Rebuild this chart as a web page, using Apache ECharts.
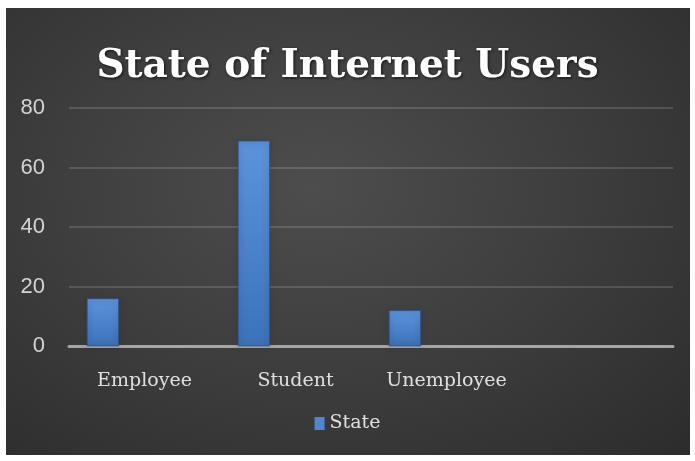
<!DOCTYPE html>
<html>
<head>
<meta charset="utf-8">
<script src="https://cdn.jsdelivr.net/npm/echarts@6/dist/echarts.min.js"></script>
<style>
  html, body { margin: 0; padding: 0; background: #fff; }
  #bg {
    position: absolute; left: 6px; top: 8px; width: 684px; height: 447px;
    background: radial-gradient(ellipse at 45% 40%, #4d4d4d 0%, #3f3f3f 45%, #2c2c2c 100%);
  }
  #chart { position: absolute; left: 0; top: 0; width: 695px; height: 461px; }
</style>
</head>
<body>
<div id="bg"></div>
<div id="chart"></div>
<script>
const categories = ['Employee', 'Student', 'Unemployee', '']
const stateValues = [16, 69, 12, null]
const emptyValues = [null, null, null, null]
const yTicks = { min: 0, max: 80, interval: 20 }

const chart = echarts.init(document.getElementById('chart'))

const barStyle = {
  color: new echarts.graphic.LinearGradient(0, 0, 0, 1, [
    { offset: 0, color: '#5d93db' },
    { offset: 1, color: '#3c72ba' }
  ]),
  borderColor: '#2d4f80',
  borderWidth: 0.5,
  shadowBlur: 6,
  shadowColor: 'rgba(0,0,0,0.6)',
  shadowOffsetY: 1
}

const option = {
  backgroundColor: 'transparent',
  title: {
    text: 'State of Internet Users',
    left: 'center',
    top: 42,
    textStyle: {
      color: '#ffffff',
      fontFamily: 'DejaVu Serif',
      fontWeight: 'bold',
      fontSize: 39,
      textShadowColor: 'rgba(0,0,0,0.7)',
      textShadowBlur: 3,
      textShadowOffsetX: 1,
      textShadowOffsetY: 1
    }
  },
  legend: {
    data: ['State'],
    top: 409,
    left: 'center',
    itemWidth: 10,
    itemHeight: 13,
    itemGap: 6,
    icon: 'rect',
    itemStyle: { color: '#4f86d0', borderWidth: 0, shadowBlur: 0 },
    textStyle: { color: '#e0e0e0', fontFamily: 'DejaVu Serif', fontSize: 19 }
  },
  grid: { left: 69, right: 22, top: 108, bottom: 115 },
  xAxis: {
    type: 'category',
    data: categories,
    axisLine: { lineStyle: { color: '#a6a6a6', width: 3 } },
    axisTick: { show: false },
    axisLabel: {
      interval: 0,
      color: '#e0e0e0',
      fontFamily: 'DejaVu Serif',
      fontSize: 19,
      margin: 26
    }
  },
  yAxis: {
    type: 'value',
    min: yTicks.min,
    max: yTicks.max,
    interval: yTicks.interval,
    axisLine: { show: false },
    axisTick: { show: false },
    axisLabel: { color: '#d4d4d4', fontFamily: 'Liberation Sans Narrow, Liberation Sans', fontSize: 22, margin: 24 },
    splitLine: { lineStyle: { color: 'rgba(255,255,255,0.14)', width: 2 } }
  },
  series: [
    { name: 'State', type: 'bar', data: stateValues, barWidth: 32, barGap: '30%', barCategoryGap: '24%', itemStyle: barStyle },
    { name: 'Series2', type: 'bar', data: emptyValues, barWidth: 32 },
    { name: 'Series3', type: 'bar', data: emptyValues, barWidth: 32 }
  ]
}

chart.setOption(option)
</script>
</body>
</html>
